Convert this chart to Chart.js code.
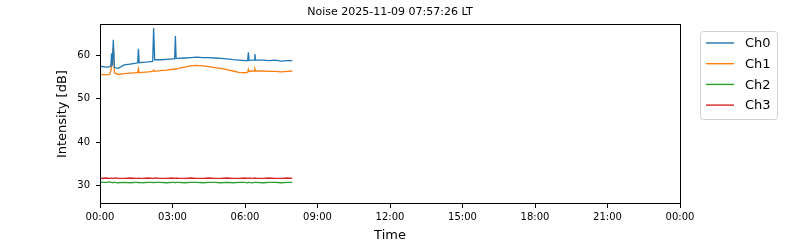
<!DOCTYPE html>
<html>
<head>
<meta charset="utf-8">
<script src="https://cdn.jsdelivr.net/npm/chart.js@4/dist/chart.umd.min.js"></script>
<style>
  html, body { margin: 0; padding: 0; background: #fff; }
  #wrap { width: 800px; height: 240px; }
</style>
</head>
<body>
<div id="wrap"><canvas id="myChart" width="800" height="240"></canvas></div>
<script>
// hours since 00:00 local time
const hours = [0, 0.25, 0.4, 0.45, 0.48, 0.51, 0.55, 0.6, 0.75, 1.0,
    1.25, 1.5, 1.56, 1.59, 1.62, 1.75, 2.0, 2.18, 2.22, 2.26,
    2.5, 2.75, 3.0, 3.09, 3.12, 3.15, 3.25, 3.5, 3.75, 4.0,
    4.25, 4.5, 4.75, 5.0, 5.25, 5.5, 5.75, 6.0, 6.11, 6.14,
    6.17, 6.3, 6.38, 6.41, 6.44, 6.75, 7.0, 7.25, 7.5, 7.75, 7.957];

const ch0 = [57.5, 57.3, 57.4, 57.5, 60.5, 57.6, 63.6, 57.2, 57.0, 57.8,
    58.0, 58.2, 58.3, 61.5, 58.3, 58.4, 58.5, 58.6, 66.3, 59.0,
    59.0, 59.1, 59.2, 59.2, 64.5, 59.3, 59.3, 59.4, 59.5, 59.6,
    59.5, 59.5, 59.4, 59.3, 59.2, 59.0, 58.9, 58.8, 58.8, 60.7,
    58.8, 58.9, 58.9, 60.3, 58.9, 58.9, 58.8, 58.9, 58.7, 58.8, 58.8];

const ch1 = [55.6, 55.5, 55.6, 56.5, 57.5, 60.0, 61.8, 56.0, 55.6, 55.8,
    55.9, 56.0, 56.0, 56.9, 56.0, 56.1, 56.2, 56.3, 56.6, 56.3,
    56.5, 56.6, 56.8, 56.8, 56.9, 56.8, 57.0, 57.3, 57.6, 57.7,
    57.6, 57.4, 57.2, 57.0, 56.7, 56.4, 56.1, 56.0, 56.1, 56.8,
    56.3, 56.4, 56.4, 56.9, 56.4, 56.4, 56.3, 56.3, 56.2, 56.3, 56.4];

const ch2 = [30.7, 30.7, 30.8, 30.7, 30.7, 30.6, 30.7, 30.7, 30.6, 30.7,
    30.6, 30.7, 30.7, 30.6, 30.7, 30.6, 30.7, 30.7, 30.6, 30.7,
    30.7, 30.6, 30.7, 30.7, 30.6, 30.7, 30.7, 30.6, 30.7, 30.7,
    30.6, 30.7, 30.7, 30.6, 30.7, 30.6, 30.7, 30.7, 30.6, 30.7,
    30.7, 30.6, 30.7, 30.7, 30.7, 30.6, 30.7, 30.7, 30.6, 30.7, 30.7];

const ch3 = [31.6, 31.7, 31.6, 31.6, 31.7, 31.6, 31.6, 31.7, 31.6, 31.6,
    31.7, 31.6, 31.6, 31.7, 31.6, 31.6, 31.7, 31.6, 31.6, 31.7,
    31.6, 31.6, 31.7, 31.6, 31.6, 31.7, 31.6, 31.6, 31.7, 31.6,
    31.6, 31.7, 31.6, 31.6, 31.7, 31.6, 31.6, 31.7, 31.6, 31.6,
    31.7, 31.6, 31.6, 31.7, 31.6, 31.6, 31.7, 31.6, 31.6, 31.7, 31.6];

const channelNames = ['Ch0', 'Ch1', 'Ch2', 'Ch3'];
const channelColors = ['#1f77b4', '#ff7f0e', '#2ca02c', '#d62728'];
const xTickStep = 3;
const titleText = 'Noise 2025-11-09 07:57:26 LT';

function toPoints(values) {
    return values.map((v, i) => ({ x: hours[i], y: v }));
}

// box round the plot, like matplotlib spines
const frame = {
    id: 'frame',
    afterDatasetsDraw(chart) {
        const a = chart.chartArea;
        const c = chart.ctx;
        c.save();
        c.strokeStyle = '#000';
        c.lineWidth = 1;
        c.strokeRect(Math.round(a.left) + 0.5, Math.round(a.top) + 0.5,
            Math.round(a.right - a.left), Math.round(a.bottom - a.top) - 1);
        c.restore();
    }
};

// legend outside the axes, top right
const sideLegend = {
    id: 'sideLegend',
    afterDraw(chart) {
        const c = chart.ctx;
        const x0 = 700, y0 = 31, w = 77, h = 88, r = 3;
        c.save();
        c.fillStyle = '#fff';
        c.strokeStyle = '#d0d0d0';
        c.lineWidth = 1;
        c.beginPath();
        c.roundRect(x0 + 0.5, y0 + 0.5, w, h, r);
        c.fill();
        c.stroke();
        c.font = '13px "DejaVu Sans"';
        c.textBaseline = 'middle';
        c.fillStyle = '#000';
        chart.data.datasets.forEach((ds, i) => {
            const y = y0 + 12 + i * 20.7;
            c.strokeStyle = ds.borderColor;
            c.lineWidth = 1.4;
            c.beginPath();
            c.moveTo(706, y);
            c.lineTo(734, y);
            c.stroke();
            c.fillText(ds.label, 745, y + 1);
        });
        c.restore();
    }
};

const ctx = document.getElementById('myChart').getContext('2d');
const myChart = new Chart(ctx, {
    type: 'line',
    data: {
        datasets: channelNames.map((name, i) => ({
            label: name,
            data: toPoints([ch0, ch1, ch2, ch3][i]),
            borderColor: channelColors[i],
            backgroundColor: channelColors[i],
            borderWidth: 1.3,
            pointRadius: 0,
            tension: 0,
            fill: false
        }))
    },
    options: {
        responsive: false,
        animation: false,
        layout: { padding: { left: 0, right: 120, top: 0, bottom: 0 } },
        plugins: {
            legend: { display: false },
            tooltip: { enabled: false },
            title: {
                display: true,
                text: titleText,
                fullSize: false,
                color: '#000',
                font: { family: 'DejaVu Sans', size: 11, weight: 'normal' },
                padding: { top: 6, bottom: 5 }
            }
        },
        scales: {
            x: {
                type: 'linear',
                min: 0,
                max: 24,
                afterFit(scale) { scale.height = 36; },
                grid: { drawOnChartArea: false, drawTicks: true, tickLength: 4, tickColor: '#000' },
                border: { display: false },
                ticks: {
                    stepSize: xTickStep,
                    autoSkip: false,
                    maxRotation: 0,
                    padding: 3,
                    color: '#000',
                    font: { family: 'DejaVu Sans', size: 10 },
                    callback: v => String(v % 24).padStart(2, '0') + ':00'
                },
                title: {
                    display: true,
                    text: 'Time',
                    color: '#000',
                    font: { family: 'DejaVu Sans', size: 13, lineHeight: 0.7 },
                    padding: { top: 0, bottom: 0 }
                }
            },
            y: {
                min: 25.7,
                max: 67.2,
                afterFit(scale) { scale.width = 100; },
                grid: { drawOnChartArea: false, drawTicks: true, tickLength: 4, tickColor: '#000' },
                border: { display: false },
                ticks: {
                    stepSize: 10,
                    includeBounds: false,
                    padding: 6,
                    color: '#000',
                    font: { family: 'DejaVu Sans', size: 10 }
                },
                title: {
                    display: true,
                    text: 'Intensity [dB]',
                    color: '#000',
                    font: { family: 'DejaVu Sans', size: 13 },
                    padding: { top: 55, bottom: 0 }
                }
            }
        }
    },
    plugins: [frame, sideLegend]
});
</script>
</body>
</html>
